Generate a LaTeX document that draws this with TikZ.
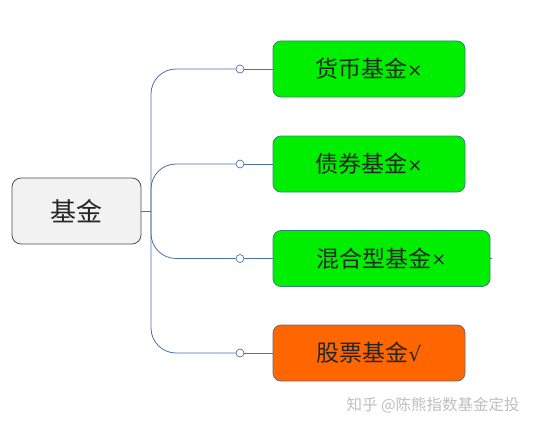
\documentclass[tikz,border=0pt]{standalone}
\usepackage{fontspec}
\setmainfont{Noto Sans CJK SC}
\newfontfamily\symf{DejaVu Sans}
\definecolor{linec}{HTML}{4A72A8}
\definecolor{leafg}{HTML}{00EE00}
\definecolor{leafgb}{HTML}{2E8A6E}
\definecolor{leafo}{HTML}{FF6600}
\definecolor{leafob}{HTML}{6A6A7A}
\definecolor{rootf}{HTML}{F2F2F2}
\definecolor{rootb}{HTML}{505050}
\newcommand{\xmk}{\raisebox{1.5pt}{\symf\fontsize{18}{20}\selectfont ×}}
\newcommand{\vmk}{{\symf\fontsize{20}{24}\selectfont √}}
\begin{document}
\begin{tikzpicture}[x=1pt,y=-1pt,
  rootbox/.style={draw=rootb,fill=rootf,rounded corners=9pt,line width=0.8pt,minimum width=129pt,minimum height=66pt,font=\fontsize{26}{30}\selectfont,text=black!85,inner sep=0pt},
  leafbox/.style={draw=leafgb,fill=leafg,rounded corners=8pt,line width=0.8pt,minimum width=192pt,minimum height=56pt,font=\fontsize{23}{28}\selectfont,text=black!85,inner sep=0pt},
  conn/.style={draw=linec,line width=0.8pt},
  dot/.style={circle,draw=linec,fill=white,line width=0.7pt,minimum size=8pt,inner sep=0pt},
  wm/.style={font=\fontsize{15.5}{18}\selectfont,text=black!25,anchor=west}]
\useasboundingbox (0,0) rectangle (534,428);
\node[rootbox] (root) at (76.5,211) {基金};
\node[leafbox] (l1) at (369,69) {货币基金\xmk};
\node[leafbox] (l2) at (369,164) {债券基金\xmk};
\node[leafbox,minimum width=217pt] (l3) at (381.5,258.5) {混合型基金\xmk};
\node[leafbox,fill=leafo,draw=leafob] (l4) at (369,353) {股票基金\vmk};
\coordinate (t) at (151,211);
\node[dot] (d1) at (240,69) {};
\node[dot] (d2) at (240,164) {};
\node[dot] (d3) at (240,258.5) {};
\node[dot] (d4) at (240,353) {};
\draw[conn] (root.east) -- (t);
\draw[conn,rounded corners=25pt] (t) |- (d1);
\draw[conn,rounded corners=25pt] (t) |- (d2);
\draw[conn,rounded corners=25pt] (t) |- (d3);
\draw[conn,rounded corners=25pt] (t) |- (d4);
\draw[conn] (d1) -- (l1.west);
\draw[conn] (d2) -- (l2.west);
\draw[conn] (d3) -- (l3.west);
\draw[conn] (d4) -- (l4.west);
\draw[conn] (l3.east) -- ++(2,0);
\node[wm] (w) at (343,405) {知乎 @陈熊指数基金定投};
\end{tikzpicture}
\end{document}
